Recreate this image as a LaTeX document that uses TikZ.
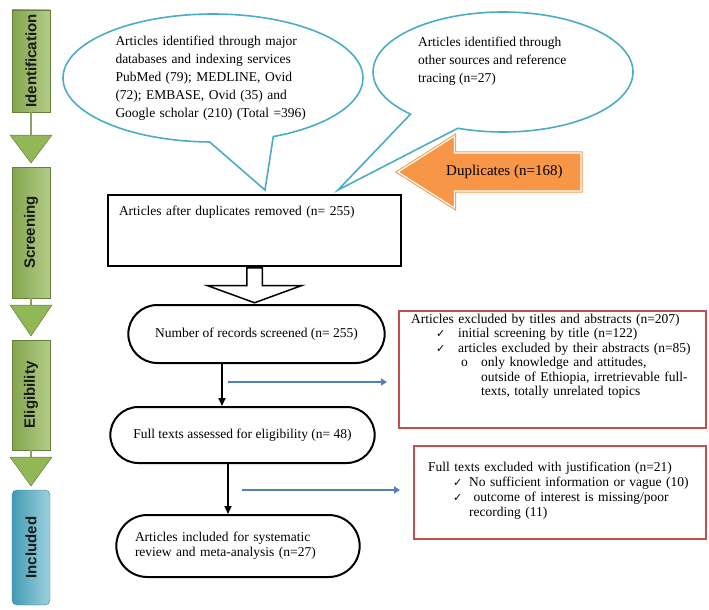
\documentclass[tikz,border=0pt]{standalone}
\usepackage{fontspec}
\setmainfont{Liberation Serif}
\setsansfont{Liberation Sans}
\newfontfamily\symb{DejaVu Sans}
\usetikzlibrary{shapes.callouts,shapes.arrows,shapes.misc,arrows.meta}
\definecolor{vert}{RGB}{146,183,85}
\definecolor{bleuclair}{RGB}{75,172,198}
\definecolor{bleuf}{RGB}{79,129,189}
\definecolor{orangef}{RGB}{247,150,70}
\definecolor{rouge}{RGB}{192,80,77}
\newcommand{\coche}{{\symb\fontsize{11}{11}\selectfont ✓}}

\begin{document}
\begin{tikzpicture}[x=1pt,y=-1pt,font=\fontsize{13.5}{15}\selectfont]
\tikzstyle{etape}=[rotate=90, minimum height=38pt, inner sep=0pt, draw=vert!70!black, left color=vert!90!black, right color=vert!70!white, text=black!90, font=\sffamily\bfseries\fontsize{15}{15}\selectfont]
\tikzstyle{trait}=[draw=vert!60!gray, line width=1.2pt]
\tikzstyle{pointe}=[fill=vert, draw=vert!70!black, line width=0.5pt]
\tikzstyle{bulle}=[ellipse callout, draw=bleuclair, fill=white, line width=1.6pt, inner sep=0pt, callout pointer arc=25]
\tikzstyle{boite}=[draw, line width=2pt]
\tikzstyle{ovale}=[rounded rectangle, draw, line width=2pt]
\tikzstyle{rejet}=[draw=rouge, line width=2.2pt, align=left, anchor=north west, font=\fontsize{13.5}{14.5}\selectfont]
\tikzstyle{fleche}=[line width=1.6pt, -{Triangle[length=8pt,width=7pt]}]
\tikzstyle{flechebleue}=[draw=bleuf, line width=2pt, -{Triangle[length=6pt,width=7pt]}]
\useasboundingbox (0,0) rectangle (709,610);
\node[etape, minimum width=102pt] (identification) at (31,61) {Identification};
\node[etape, minimum width=131pt] (selection) at (31,232.5) {Screening};
\node[etape, minimum width=110pt] (eligibilite) at (31,395) {Eligibility};
\node[etape, minimum width=115pt, rounded corners=5pt, draw=bleuclair!70!black, left color=bleuclair!90!black, right color=bleuclair!55!white] (inclusion) at (31,547.5) {Included};
\coordinate (p1) at (31,135);
\coordinate (p2) at (31,305);
\coordinate (p3) at (31,457);
\draw[trait] (identification) -- (p1);
\draw[trait] (selection) -- (p2);
\draw[trait] (eligibilite) -- (p3);
\filldraw[pointe] (p1) ++(-21,0) -- ++(42,0) -- ++(-21,28) -- cycle;
\filldraw[pointe] (p2) ++(-21,0) -- ++(42,0) -- ++(-21,31) -- cycle;
\filldraw[pointe] (p3) ++(-21,0) -- ++(42,0) -- ++(-21,29) -- cycle;
\node[bulle, minimum width=300pt, minimum height=128pt, callout absolute pointer={(265,190)}, align=left, text width=195pt, font=\fontsize{13.5}{18}\selectfont] (bases) at (213,78) {Articles identified through major\\databases and indexing services\\PubMed (79); MEDLINE, Ovid\\(72); EMBASE, Ovid (35) and\\Google scholar (210) (Total =396)};
\node[bulle, minimum width=260pt, minimum height=120pt, callout absolute pointer={(338,190)}] (autres) at (503,72) {};
\node[align=left, anchor=north west, inner sep=0pt, font=\fontsize{13.5}{18}\selectfont] (autrestexte) at (418,37) {Articles identified through\\other sources and reference\\tracing (n=27)};
\node[single arrow, shape border rotate=180, draw=orangef, fill=orangef, double=white, double distance=1.2pt, line width=1pt, minimum height=183pt, single arrow head extend=17pt, single arrow tip angle=65, inner ysep=12pt, inner xsep=4pt, text height=10pt, text depth=3pt, font=\fontsize{15}{15}\selectfont, anchor=tip] (doublons) at (397,172) {Duplicates (n=168)};
\node[boite, anchor=north west, text width=271pt, align=left, inner xsep=11pt, inner ysep=8pt, text height=12pt, text depth=43pt] (apres) at (107,194) {Articles after duplicates removed (n= 255)};
\node[single arrow, draw, fill=white, line width=1.5pt, shape border rotate=270, minimum height=35pt, single arrow head extend=39.5pt, single arrow tip angle=140, inner sep=7pt, anchor=tail] (descente) at (apres.south) {};
\node[ovale, minimum width=263pt, minimum height=58pt] (criblage) at (256.5,334) {Number of records screened (n= 255)};
\node[ovale, minimum width=271pt, minimum height=56pt] (evalues) at (242.5,435) {Full texts assessed for eligibility (n= 48)};
\node[ovale, minimum width=250pt, minimum height=62pt, text width=206pt, align=left] (inclus) at (238,546) {Articles included for systematic\\review and meta-analysis (n=27)};
\draw[fleche] ([xshift=-34.5pt]criblage.south) -- ([xshift=-34.5pt]criblage.south |- evalues.north);
\draw[fleche] ([xshift=-14.5pt]evalues.south) -- ([xshift=-14.5pt]evalues.south |- inclus.north);
\node[rejet, text width=283pt, inner xsep=12pt, inner ysep=2pt, text height=10pt, text depth=103pt] (rejet1) at (398,310) {Articles excluded by titles and abstracts (n=207)\\
\hspace*{25pt}\makebox[22pt][l]{\coche}initial screening by title (n=122)\\
\hspace*{25pt}\makebox[22pt][l]{\coche}articles excluded by their abstracts (n=85)\\
\hspace*{50pt}\makebox[20pt][l]{o}only knowledge and attitudes,\\
\hspace*{70pt}outside of Ethiopia, irretrievable full-\\
\hspace*{70pt}texts, totally unrelated topics};
\node[rejet, text width=264pt, inner xsep=14pt, inner ysep=3pt, text height=22pt, text depth=65pt, font=\fontsize{13.5}{15}\selectfont] (rejet2) at (413,445) {Full texts excluded with justification (n=21)\\
\hspace*{25pt}\makebox[16pt][l]{\coche}No sufficient information or vague (10)\\
\hspace*{25pt}\makebox[16pt][l]{\coche} outcome of interest is missing/poor\\
\hspace*{41pt}recording (11)};
\coordinate (b1) at (228,382);
\coordinate (b2) at (242,490);
\draw[flechebleue, shorten >=11pt] (b1) -- (b1 -| rejet1.west);
\draw[flechebleue, shorten >=13pt] (b2) -- (b2 -| rejet2.west);
\end{tikzpicture}
\end{document}
